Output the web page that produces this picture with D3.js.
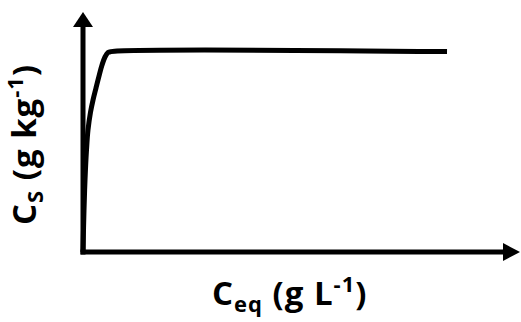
<!DOCTYPE html>
<html>
<head>
<meta charset="utf-8">
<script src="https://cdn.jsdelivr.net/npm/d3@7"></script>
<style>
  html, body { margin: 0; padding: 0; background: #fff; }
  svg { display: block; }
  .lbl { font-family: "Open Sans", Lato, sans-serif; font-weight: 700; fill: #000; letter-spacing: 1px; }
</style>
</head>
<body>
<svg id="chart" width="521" height="322"></svg>
<script>
// Saturation isotherm: sorbed concentration vs. equilibrium concentration
const ceq = [0, 0.23, 0.46, 0.8, 1.14, 1.72, 2.29, 2.97, 3.66, 4.35, 5.03, 5.72, 6.41, 83.3];
const cs  = [0, 17.5, 30, 42.5, 50.8, 58.3, 63.3, 68.3, 73.3, 77.9, 81.25, 83.1, 83.5, 83.5];

const xLabel = { main: "C", sub: "eq", rest: " (g L", sup: "-1", end: ")" };
const yLabel = { main: "C", sub: "S", rest: " (g kg", sup: "-1", end: ")" };

const W = 521, H = 322;
const origin = { x: 83, y: 252 };
const svg = d3.select("#chart");

const x = d3.scaleLinear().domain([0, 100]).range([origin.x, 520]);
const y = d3.scaleLinear().domain([0, 100]).range([origin.y, 12]);

const stroke = 5;

// axes with arrowheads
svg.append("line")
  .attr("x1", x(0)).attr("y1", y(0) + stroke / 2)
  .attr("x2", x(0)).attr("y2", y(100) + 12)
  .attr("stroke", "#000").attr("stroke-width", stroke);
svg.append("path")
  .attr("d", `M${x(0)},${y(100)} L${x(0) - 10},${y(100) + 15} L${x(0) + 10},${y(100) + 15} Z`)
  .attr("fill", "#000");

svg.append("line")
  .attr("x1", x(0) - stroke / 2).attr("y1", y(0))
  .attr("x2", x(100) - 12).attr("y2", y(0))
  .attr("stroke", "#000").attr("stroke-width", stroke);
svg.append("path")
  .attr("d", `M${x(100)},${y(0)} L${x(100) - 17},${y(0) - 9} L${x(100) - 17},${y(0) + 9} Z`)
  .attr("fill", "#000");

// isotherm curve
const pts = ceq.map((v, i) => [v, cs[i]]);
const line = d3.line()
  .x(d => x(d[0]))
  .y(d => y(d[1]))
  .curve(d3.curveCatmullRom.alpha(0.5));
svg.append("path")
  .datum(pts)
  .attr("d", line)
  .attr("fill", "none")
  .attr("stroke", "#000")
  .attr("stroke-width", stroke)
  .attr("stroke-linejoin", "round");

// axis titles
function title(g, lab) {
  const t = g.append("text").attr("class", "lbl").attr("font-size", 33);
  t.append("tspan").text(lab.main);
  t.append("tspan").attr("font-size", 22).attr("dy", 7).text(lab.sub);
  t.append("tspan").attr("dy", -7).text(lab.rest);
  t.append("tspan").attr("font-size", 22).attr("dy", -13).text(lab.sup);
  t.append("tspan").attr("dy", 13).text(lab.end);
  return t;
}

title(svg.append("g").attr("transform", "translate(212,305)"), xLabel);
title(svg.append("g").attr("transform", "translate(36,225) rotate(-90)"), yLabel);
</script>
</body>
</html>
